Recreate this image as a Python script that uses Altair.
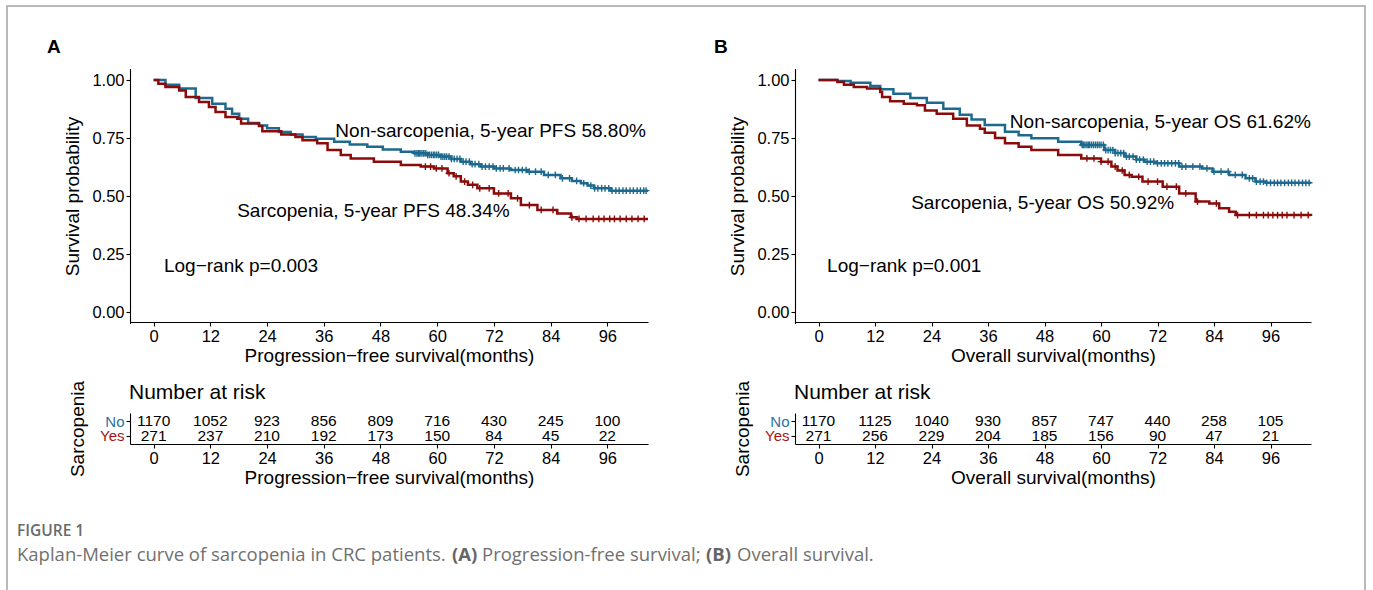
import altair as alt
import pandas as pd

W, H = 1373, 590
FONT = "Liberation Sans"
CAPFONT = "Open Sans"
BLUE = "#1D6A8E"
RED = "#8B0B0B"
LBLUE = "#2A72A3"
LRED = "#A31515"
GROUPS = ["No", "Yes"]
TICKS = [0, 12, 24, 36, 48, 60, 72, 84, 96]
YTICKS = [0, 0.25, 0.5, 0.75, 1.0]

# ---------------- Panel A: progression-free survival ----------------
A_no_t = [0, 2.5, 5.4, 8.9, 12.4, 15.2, 16.6, 18.1, 20, 22.3, 24, 26.5, 29, 31.5, 34.3,
          38.2, 41.5, 45.2, 48.5, 52.3, 55.1, 58, 60.7, 63, 65, 67, 69.2, 72, 75.5, 79.1,
          82.6, 86.1, 88.5, 90.4, 91.8, 93.2, 96.7, 104.6]
A_no_s = [1.0, 0.98, 0.963, 0.922, 0.898, 0.876, 0.855, 0.833, 0.815, 0.804, 0.792, 0.776,
          0.765, 0.754, 0.747, 0.734, 0.722, 0.712, 0.70, 0.691, 0.684, 0.677, 0.67, 0.66,
          0.648, 0.637, 0.627, 0.619, 0.612, 0.605, 0.591, 0.576, 0.565, 0.555, 0.545,
          0.533, 0.523, 0.523]
A_yes_t = [0, 1, 2.5, 5.4, 6.8, 9.6, 11.7, 13.1, 15.2, 17.7, 18.5, 22.3, 23, 27, 30, 31.5,
           34.6, 36.8, 39.6, 41.7, 46.6, 52.3, 56.5, 59.3, 62.2, 63.5, 65, 66.5, 68.5, 72,
           75.6, 77.7, 81.2, 85.4, 88.3, 89.5, 104.6]
A_yes_s = [1.0, 0.984, 0.97, 0.955, 0.927, 0.905, 0.884, 0.862, 0.84, 0.833, 0.812, 0.802,
           0.779, 0.765, 0.754, 0.74, 0.727, 0.698, 0.677, 0.662, 0.648, 0.634, 0.627, 0.619,
           0.598, 0.585, 0.562, 0.548, 0.533, 0.511, 0.49, 0.461, 0.44, 0.425, 0.408, 0.401,
           0.401]
A_no_cens = [55.3, 55.7, 56.0, 56.3, 56.6, 57.0, 57.2, 57.6, 58.0, 58.4, 58.8, 59.2, 59.5,
             59.9, 60.3, 60.8, 61.2, 61.6, 62.0, 62.5, 63.0, 63.6, 64.2, 64.8, 65.5, 66.1,
             66.8, 67.4, 68.0, 68.8, 69.5, 70.2, 71.0, 71.8, 72.5, 73.3, 74.0, 75.2, 76.5,
             77.2, 78.0, 78.8, 79.5, 80.8, 82.0, 83.5, 85.0, 86.5, 88.0, 89.5, 91.0, 92.5,
             93.3, 94.0, 94.8, 95.5, 96.3, 97.0, 97.8, 98.5, 99.3, 100.0, 100.8, 101.5,
             102.3, 103.0, 103.7, 104.2]
A_yes_cens = [57.5, 58.6, 59.8, 61.0, 62.5, 64.0, 65.8, 67.5, 69.0, 71.0, 73.0, 75.0, 77.0,
              79.5, 82.0, 84.5, 88.5, 90.0, 91.5, 93.0, 94.2, 95.3, 96.5, 97.5, 98.7, 100.0,
              101.2, 102.5, 103.8]
A_risk_no = [1170, 1052, 923, 856, 809, 716, 430, 245, 100]
A_risk_yes = [271, 237, 210, 192, 173, 150, 84, 45, 22]
A_notes = ["Non-sarcopenia, 5-year PFS 58.80%", "Sarcopenia, 5-year PFS 48.34%", "Log\u2212rank p=0.003"]
A_notes_t = [71.3, 46.5, 18.5]
A_notes_s = [0.78, 0.435, 0.198]

# ---------------- Panel B: overall survival ----------------
B_no_t = [0, 4, 6.8, 11, 13.1, 15.9, 19.5, 23, 26.5, 30, 32.5, 35.3, 39.6, 42.5, 45.2, 50.9,
          55.8, 60.7, 63, 65, 67.5, 69.2, 71.7, 76.6, 81.5, 83.7, 87.2, 90.7, 92.8, 95, 104.6]
B_no_s = [1.0, 0.996, 0.988, 0.974, 0.96, 0.941, 0.922, 0.902, 0.876, 0.85, 0.83, 0.806,
          0.777, 0.762, 0.749, 0.734, 0.72, 0.698, 0.685, 0.67, 0.657, 0.648, 0.641, 0.627,
          0.619, 0.605, 0.591, 0.576, 0.562, 0.557, 0.557]
B_yes_t = [0, 4, 5.4, 7.5, 10.3, 13.1, 13.5, 15.2, 18.1, 20.9, 22.6, 25.1, 28.6, 31.5, 34.3,
           35.3, 37.5, 39.6, 42.5, 45.2, 50.9, 55.8, 60, 62.2, 63.5, 65, 66.5, 68.8, 73.1,
           76.6, 80.1, 83, 85.1, 87.2, 88.6, 104.6]
B_yes_s = [1.0, 0.991, 0.98, 0.97, 0.963, 0.948, 0.927, 0.908, 0.898, 0.891, 0.869, 0.855,
           0.833, 0.804, 0.79, 0.773, 0.75, 0.727, 0.712, 0.698, 0.677, 0.662, 0.648, 0.627,
           0.61, 0.591, 0.583, 0.562, 0.54, 0.511, 0.476, 0.468, 0.447, 0.432, 0.418, 0.414]
B_no_cens = [56.0, 56.3, 56.6, 57.0, 57.3, 57.6, 58.0, 58.4, 58.8, 59.2, 59.6, 60.0, 60.5,
             61.0, 61.5, 62.0, 62.5, 63.0, 63.6, 64.2, 64.8, 65.4, 66.0, 66.8, 67.5, 68.2,
             69.0, 69.8, 70.5, 71.2, 72.0, 72.8, 73.5, 74.2, 75.0, 75.8, 76.5, 77.2, 78.0,
             79.5, 81.0, 82.5, 84.0, 85.5, 87.0, 88.5, 90.0, 91.5, 92.2, 93.0, 93.8, 94.5,
             95.2, 96.0, 96.8, 97.5, 98.2, 99.0, 99.8, 100.5, 101.2, 102.0, 102.8, 103.5,
             104.2]
B_yes_cens = [57.0, 58.5, 60.0, 61.5, 63.0, 64.5, 66.0, 68.0, 70.0, 72.0, 74.0, 76.0, 78.0,
              80.5, 84.5, 89.0, 91.5, 93.0, 94.5, 95.5, 96.5, 97.5, 98.5, 99.5, 101.0,
              102.5, 104.0]
B_risk_no = [1170, 1125, 1040, 930, 857, 747, 440, 258, 105]
B_risk_yes = [271, 256, 229, 204, 185, 156, 90, 47, 21]
B_notes = ["Non-sarcopenia, 5-year OS 61.62%", "Sarcopenia, 5-year OS 50.92%", "Log\u2212rank p=0.001"]
B_notes_t = [72.6, 47.6, 18.2]
B_notes_s = [0.819, 0.47, 0.198]

CAPTION_HEAD = "FIGURE 1"
CAPTION_PARTS = ["Kaplan-Meier curve of sarcopenia in CRC patients.", "(A)",
                 "Progression-free survival;", "(B)", "Overall survival."]


def step_df(times, surv, grp):
    return pd.DataFrame({"t": times, "s": surv, "grp": grp})


def censor_df(ctimes, times, surv, grp):
    vals = []
    for c in ctimes:
        v = surv[0]
        for t, s in zip(times, surv):
            if t <= c:
                v = s
            else:
                break
        vals.append(v)
    return pd.DataFrame({"t": ctimes, "s": vals, "grp": grp})


AX = dict(grid=False, domainColor="black", domainWidth=1.1, tickColor="black", tickWidth=1.1,
          tickSize=4, labelFont=FONT, labelFontSize=16.5, titleFont=FONT,
          titleFontSize=19, titleFontWeight="normal", titleColor="black", labelFlush=False,
          labelOverlap=False)

COLOR = alt.Color("grp:N", scale=alt.Scale(domain=GROUPS, range=[BLUE, RED]), legend=None)


def km_panel(x0, x1, no_t, no_s, yes_t, yes_s, no_c, yes_c, notes, notes_t, notes_s, xtitle):
    xs = alt.Scale(domain=[-5, 104.6], range=[x0, x1], nice=False, zero=False)
    ys = alt.Scale(domain=[-0.05, 1.05], range=[323.6, 68.4], nice=False, zero=False)
    curves = pd.concat([step_df(no_t, no_s, "No"), step_df(yes_t, yes_s, "Yes")])
    cens = pd.concat([censor_df(no_c, no_t, no_s, "No"), censor_df(yes_c, yes_t, yes_s, "Yes")])
    line = alt.Chart(curves).mark_line(interpolate="step-after", strokeWidth=2.5).encode(
        x=alt.X("t:Q", scale=xs, axis=alt.Axis(orient="bottom", offset=322 - H, values=TICKS,
                                               title=xtitle, labelPadding=2, titlePadding=2,
                                               labelColor="black", **AX)),
        y=alt.Y("s:Q", scale=ys, axis=alt.Axis(orient="left", offset=-x0, values=YTICKS,
                                               format=".2f", title="Survival probability",
                                               labelPadding=2, titlePadding=9,
                                               labelColor="black", **AX)),
        color=COLOR,
    )
    marks = alt.Chart(cens).mark_point(shape="M-1,0L1,0M0,-1L0,1", size=45, filled=False,
                                       strokeWidth=1.4, opacity=1).encode(
        x=alt.X("t:Q", scale=xs, axis=None),
        y=alt.Y("s:Q", scale=ys, axis=None),
        color=COLOR,
    )
    nd = pd.DataFrame({"t": notes_t, "s": notes_s, "label": notes})
    text = alt.Chart(nd).mark_text(font=FONT, fontSize=19, color="black", align="center",
                                   baseline="middle").encode(
        x=alt.X("t:Q", scale=xs, axis=None),
        y=alt.Y("s:Q", scale=ys, axis=None),
        text="label:N",
    )
    return [line, marks, text]


def risk_panel(x0, x1, no_n, yes_n, xtitle):
    xs = alt.Scale(domain=[-5, 104.6], range=[x0, x1], nice=False, zero=False)
    ys = alt.Scale(type="point", domain=GROUPS, range=[413, 444], padding=0.55)
    df = pd.DataFrame({"t": TICKS * 2, "grp": ["No"] * 9 + ["Yes"] * 9, "n": no_n + yes_n})
    return alt.Chart(df).mark_text(font=FONT, fontSize=15.5, color="black", baseline="middle").encode(
        x=alt.X("t:Q", scale=xs, axis=alt.Axis(orient="bottom", offset=444 - H, values=TICKS,
                                               title=xtitle, labelPadding=2, titlePadding=2,
                                               labelColor="black", **AX)),
        y=alt.Y("grp:N", scale=ys, sort=GROUPS,
                axis=alt.Axis(orient="left", offset=-x0, title="Sarcopenia", labelPadding=2,
                              titlePadding=12, **{**AX, "labelFontSize": 15},
                              labelColor={"condition": {"test": "datum.value === 'No'", "value": LBLUE},
                                          "value": LRED})),
        text="n:Q",
    )


def label(txt, x, y, size, weight="normal", font=FONT, color="black", align="left"):
    return alt.Chart(pd.DataFrame({"v": [0]})).mark_text(
        text=txt, font=font, fontSize=size, fontWeight=weight, color=color, align=align,
        baseline="middle").encode(x=alt.value(x), y=alt.value(y))


one = pd.DataFrame({"v": [0]})
border = alt.Chart(one).mark_rect(fillOpacity=0, stroke="#a3a3a3", strokeWidth=1.5).encode(
    x=alt.value(7), x2=alt.value(1365), y=alt.value(6), y2=alt.value(640))

kmA = km_panel(130, 648, A_no_t, A_no_s, A_yes_t, A_yes_s, A_no_cens, A_yes_cens,
               A_notes, A_notes_t, A_notes_s, "Progression\u2212free survival(months)")
kmB = km_panel(795, 1311, B_no_t, B_no_s, B_yes_t, B_yes_s, B_no_cens, B_yes_cens,
               B_notes, B_notes_t, B_notes_s, "Overall survival(months)")
rkA = risk_panel(130, 648, A_risk_no, A_risk_yes, "Progression\u2212free survival(months)")
rkB = risk_panel(795, 1311, B_risk_no, B_risk_yes, "Overall survival(months)")

CAPC = "#707070"
CS = 18.5
labels = [
    label("A", 47, 47, 19, weight="bold"),
    label("B", 714, 47, 19, weight="bold"),
    label("Number at risk", 129, 393, 21),
    label("Number at risk", 794, 393, 21),
    label(CAPTION_HEAD, 17, 531, 15.5, weight=600, font=CAPFONT, color="#6a6a6a"),
    label(CAPTION_PARTS[0], 17, 555, CS, font=CAPFONT, color=CAPC),
    label(CAPTION_PARTS[1], 452, 555, CS, weight="bold", font=CAPFONT, color="#666666"),
    label(CAPTION_PARTS[2], 482, 555, CS, font=CAPFONT, color=CAPC),
    label(CAPTION_PARTS[3], 706, 555, CS, weight="bold", font=CAPFONT, color="#666666"),
    label(CAPTION_PARTS[4], 737, 555, CS, font=CAPFONT, color=CAPC),
]

chart = alt.layer(border, *kmA, rkA, *kmB, rkB, *labels).resolve_scale(
    x="independent", y="independent").resolve_axis(
    x="independent", y="independent").properties(
    width=W, height=H, autosize=alt.AutoSizeParams(type="none"), padding=0,
    background="white").configure_view(stroke="transparent")

chart.save("out.html", embed_options={"renderer": "svg", "actions": False})
